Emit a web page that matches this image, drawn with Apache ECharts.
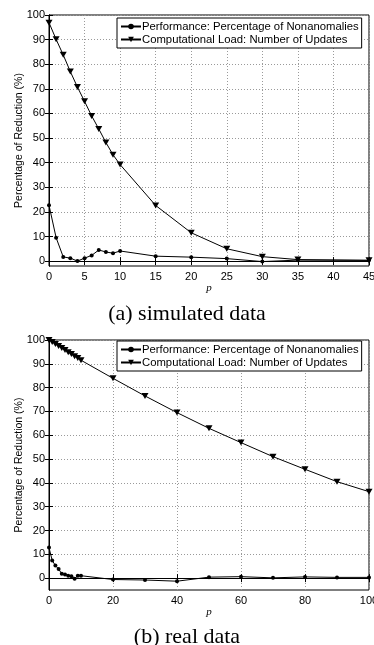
<!DOCTYPE html>
<html>
<head>
<meta charset="utf-8">
<script src="https://cdn.jsdelivr.net/npm/echarts@6/dist/echarts.min.js"></script>
<style>
html,body{margin:0;padding:0;background:#fff;}
#c{width:374px;height:645px;}
</style>
</head>
<body>
<div id="c"></div>
<script>
// ---- Data ----
var simP = [0,1,2,3,4,5,6,7,8,9,10,15,20,25,30,35,45];
var simPerf = [22.7,9.5,1.7,1.2,0,1.2,2.3,4.5,3.7,3.2,4.1,2,1.6,1,-0.2,0.4,0.3];
var simLoad = [96.9,90.1,83.8,77,70.7,64.9,59,53.7,48.2,43.2,39.2,22.6,11.5,5,1.8,0.6,0.3];

var realP = [0,1,2,3,4,5,6,7,8,9,10,20,30,40,50,60,70,80,90,100];
var realPerf = [12.8,7.4,5.3,3.8,1.8,1.5,1,0.8,-0.3,1,1,-0.6,-0.8,-1.3,0.4,0.6,0.1,0.5,0.3,0.3];
var realLoad = [100,99.2,98.3,97.5,96.6,95.8,94.9,94.1,93.2,92.4,91.5,83.9,76.5,69.5,62.9,56.9,51,45.7,40.5,36.3];

var yTicks = [0,10,20,30,40,50,60,70,80,90,100];
var seriesNames = ['Performance: Percentage of Nonanomalies','Computational Load: Number of Updates'];
var captions = ['(a) simulated data','(b) real data'];
var xName = 'p';
var yName = 'Percentage of Reduction (%)';

function pairs(xs, ys){ return xs.map(function(x,i){ return [x, ys[i]]; }); }

var chart = echarts.init(document.getElementById('c'), null, {renderer:'canvas'});

var font = 'Liberation Sans, Arial, Helvetica, sans-serif';
var gridDefs = [
  {left:49, top:15, width:320, height:251, legendTop:18},
  {left:49, top:340, width:320, height:250, legendTop:341}
];
var xRanges = [[0,45,5],[0,100,20]];
var yMins = [-2,-5];

var grids = [], xAxes = [], yAxes = [], series = [], legends = [];
gridDefs.forEach(function(g, i){
  grids.push({left:g.left, top:g.top, width:g.width, height:g.height, outerBoundsMode:'none', containLabel:false,
    show:true, borderColor:'#000', borderWidth:1, backgroundColor:'#fff'});
  var xr = xRanges[i];
  xAxes.push({
    type:'value', gridIndex:i, position:'bottom', min:xr[0], max:xr[1], interval:xr[2],
    name:xName, nameLocation:'middle', nameGap:17, nameMoveOverlap:false,
    nameTextStyle:{fontFamily:'Liberation Serif, Times New Roman, serif', fontStyle:'italic', fontSize:11, color:'#000'},
    axisLine:{show:true, lineStyle:{color:'#000', width:1}},
    axisTick:{show:true, inside:true, length:4, lineStyle:{color:'#000'}},
    axisLabel:{color:'#000', fontSize:11, fontFamily:font, margin:5, showMaxLabel:true, showMinLabel:true, hideOverlap:false},
    splitLine:{show:true, lineStyle:{color:'#9a9a9a', type:[1,2], width:1}}
  });
  xAxes.push({
    type:'value', gridIndex:i, position:'top', min:xr[0], max:xr[1], interval:xr[2],
    axisLine:{show:true, lineStyle:{color:'#000', width:1}},
    axisTick:{show:true, inside:true, length:4, lineStyle:{color:'#000'}},
    axisLabel:{show:false}, splitLine:{show:false}
  });
  yAxes.push({
    type:'value', gridIndex:i, position:'left', min:yMins[i], max:100,
    name:yName, nameLocation:'middle', nameGap:24, nameMoveOverlap:false,
    nameTextStyle:{fontFamily:font, fontSize:10.5, color:'#000'},
    axisLine:{show:true, lineStyle:{color:'#000', width:1}},
    axisTick:{show:true, inside:true, length:4, customValues:yTicks, lineStyle:{color:'#000'}},
    axisLabel:{color:'#000', fontSize:11, fontFamily:font, margin:4, customValues:yTicks},
    splitLine:{show:true, lineStyle:{color:'#9a9a9a', type:[1,2], width:1}}
  });
  yAxes.push({
    type:'value', gridIndex:i, position:'right', min:yMins[i], max:100,
    axisLine:{show:true, lineStyle:{color:'#000', width:1}},
    axisTick:{show:true, inside:true, length:4, customValues:yTicks, lineStyle:{color:'#000'}},
    axisLabel:{show:false}, splitLine:{show:false}
  });
  var perf = i === 0 ? pairs(simP, simPerf) : pairs(realP, realPerf);
  var load = i === 0 ? pairs(simP, simLoad) : pairs(realP, realLoad);
  series.push({
    type:'line', name:seriesNames[0], xAxisIndex:2*i, yAxisIndex:2*i, data:perf,
    symbol:'circle', symbolSize:4, showAllSymbol:true, animation:false,
    lineStyle:{color:'#000', width:1}, itemStyle:{color:'#000'}, z:3
  });
  series.push({
    type:'line', name:seriesNames[1], xAxisIndex:2*i, yAxisIndex:2*i, data:load,
    symbol:'triangle', symbolRotate:180, symbolSize:[7,6], showAllSymbol:true, animation:false,
    lineStyle:{color:'#000', width:1}, itemStyle:{color:'#000'}, z:4
  });
  legends.push({
    left:117, top:g.legendTop, orient:'vertical', itemGap:2, itemWidth:20, itemHeight:7,
    padding:[3,3,3,3], borderColor:'#000', borderWidth:1, backgroundColor:'#fff', borderRadius:0,
    textStyle:{fontFamily:font, fontSize:11.3, color:'#000', padding:[0,0,0,-4]},
    data:seriesNames.map(function(n){ return {name:n}; }),
    selectedMode:false
  });
});

var option = {
  backgroundColor:'#fff',
  animation:false,
  grid:grids, xAxis:xAxes, yAxis:yAxes, series:series,
  legend:legends,
  graphic:[
    {type:'text', left:'center', top:303, style:{text:captions[0], fontFamily:'Liberation Serif, Times New Roman, serif', fontSize:22, fill:'#000'}},
    {type:'text', left:'center', top:626, style:{text:captions[1], fontFamily:'Liberation Serif, Times New Roman, serif', fontSize:22, fill:'#000'}}
  ]
};
chart.setOption(option);
</script>
</body>
</html>
